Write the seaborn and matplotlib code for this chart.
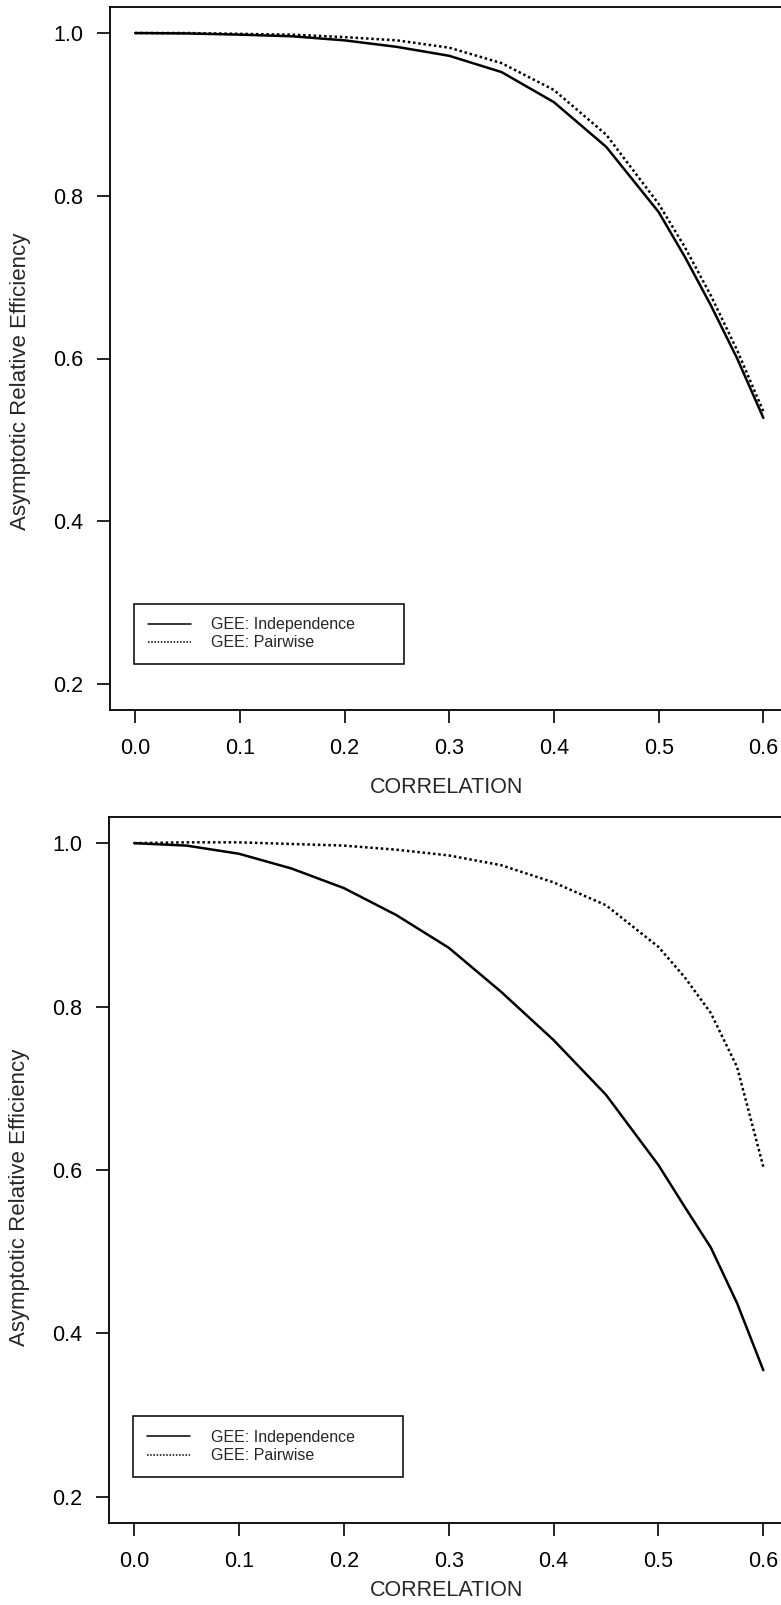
import numpy as np
import pandas as pd
import matplotlib
matplotlib.use("Agg")
import matplotlib.pyplot as plt
import seaborn as sns

# ----- data -----
correlation = [0.0, 0.05, 0.1, 0.15, 0.2, 0.25, 0.3, 0.35, 0.4, 0.45,
               0.5, 0.525, 0.55, 0.575, 0.6]

top_independence = [1.000, 0.9995, 0.998, 0.996, 0.991, 0.983, 0.972, 0.952,
                    0.915, 0.860, 0.780, 0.725, 0.665, 0.600, 0.527]
top_pairwise = [1.000, 1.000, 0.999, 0.998, 0.995, 0.991, 0.982, 0.963,
                0.930, 0.875, 0.790, 0.737, 0.677, 0.610, 0.535]

bottom_independence = [1.000, 0.997, 0.987, 0.969, 0.945, 0.912, 0.872, 0.818,
                       0.759, 0.692, 0.606, 0.555, 0.505, 0.437, 0.355]
bottom_pairwise = [1.000, 1.001, 1.001, 0.999, 0.997, 0.992, 0.985, 0.973,
                   0.952, 0.924, 0.873, 0.836, 0.792, 0.726, 0.604]

series_labels = ["GEE: Independence", "GEE: Pairwise"]
x_ticks = [0.0, 0.1, 0.2, 0.3, 0.4, 0.5, 0.6]
y_ticks = [0.2, 0.4, 0.6, 0.8, 1.0]

# ----- style -----
sns.set_style("ticks")
plt.rcParams["font.family"] = ["Liberation Sans", "DejaVu Sans"]

W, H = 781, 1605
fig = plt.figure(figsize=(W / 100, H / 100), dpi=100)


def draw_panel(ax, indep, pair, xlab_y, ylab_y):
    df = pd.DataFrame({"correlation": correlation, "indep": indep, "pair": pair})
    sns.lineplot(data=df, x="correlation", y="indep", ax=ax, color="black",
                 linewidth=1.8, label=series_labels[0])
    sns.lineplot(data=df, x="correlation", y="pair", ax=ax, color="black",
                 linewidth=1.8, linestyle=(0, (1, 1.1)), label=series_labels[1])

    ax.set_xlim(-0.024, 0.635)
    ax.set_ylim(0.168, 1.032)
    ax.set_xticks(x_ticks)
    ax.set_xticklabels([f"{v:.1f}" for v in x_ticks])
    ax.set_yticks(y_ticks)
    ax.set_yticklabels([f"{v:.1f}" for v in y_ticks])
    ax.tick_params(axis="both", direction="out", length=9.5, width=1.2,
                   labelsize=15.5, colors="black")
    ax.tick_params(axis="x", pad=11)
    ax.tick_params(axis="y", pad=10)
    for s in ax.spines.values():
        s.set_linewidth(1.3)
        s.set_color("black")

    ax.set_xlabel("CORRELATION", fontsize=15.5)
    ax.xaxis.set_label_coords(0.488, xlab_y)
    ax.set_ylabel("Asymptotic Relative Efficiency", fontsize=16)
    ax.yaxis.set_label_coords(-0.1145, ylab_y)

    leg = ax.legend(loc="lower left", bbox_to_anchor=(0.0348, 0.0654, 0.391, 0.09),
                    mode="expand", fontsize=11.5, frameon=True, fancybox=False,
                    framealpha=1, edgecolor="black", borderpad=0.85,
                    labelspacing=0.2, handlelength=2.7, handletextpad=1.3,
                    borderaxespad=0)
    leg.get_frame().set_linewidth(1.1)
    for h in leg.legend_handles:
        h.set_linewidth(1.1)


ax_top = fig.add_axes([110 / W, 1 - 710 / H, 690 / W, 703 / H])
draw_panel(ax_top, top_independence, top_pairwise, -0.0953, 0.468)

ax_bot = fig.add_axes([109 / W, 1 - 1523 / H, 691 / W, 706 / H])
draw_panel(ax_bot, bottom_independence, bottom_pairwise, -0.0807, 0.462)

fig.savefig("out.png", dpi=100)
